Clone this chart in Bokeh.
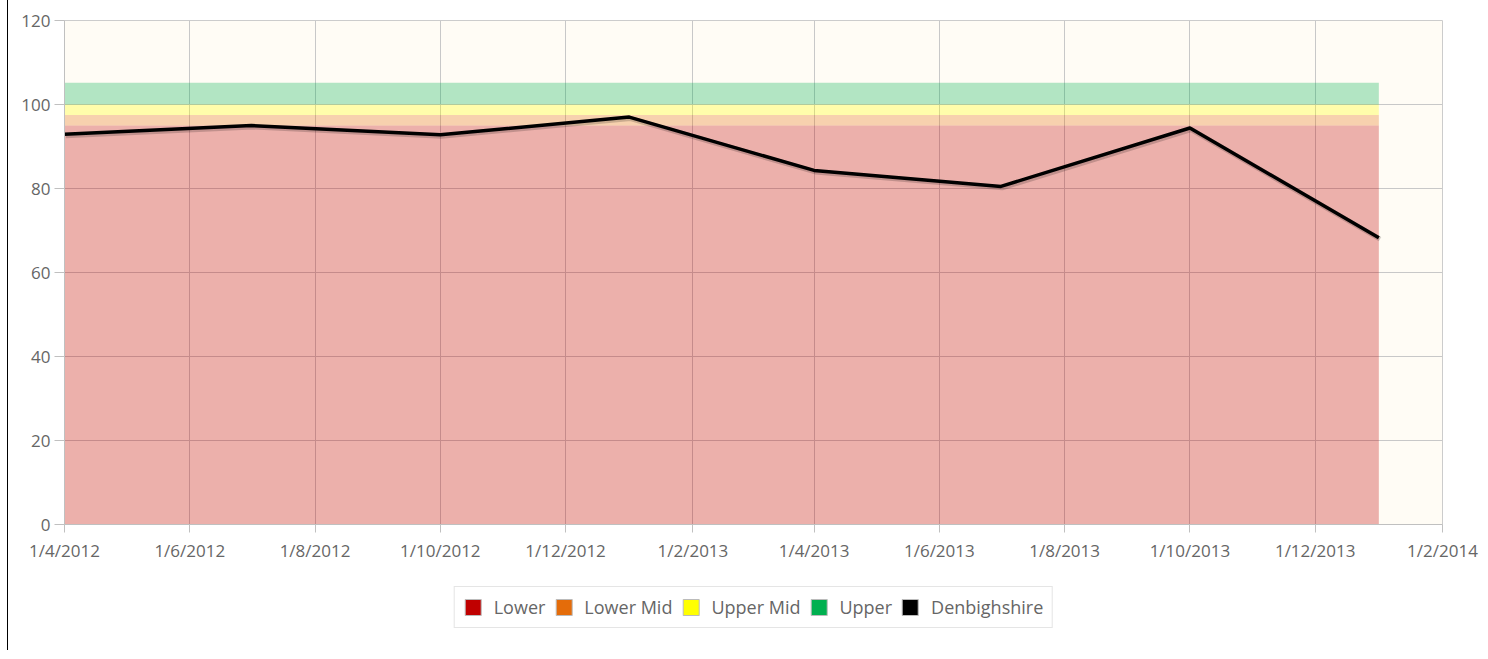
import math
import pandas as pd
from bokeh.plotting import figure
from bokeh.layouts import column
from bokeh.models import (FixedTicker, Legend, LegendItem, ColumnDataSource, Range1d)
from bokeh.embed import file_html
from bokeh.resources import INLINE

# ---- data ----
dates = ["2012-04-01", "2012-07-01", "2012-10-01", "2013-01-01",
         "2013-04-01", "2013-07-01", "2013-10-01", "2014-01-01"]
lower = [95.0, 95.0, 95.0, 95.0, 95.0, 95.0, 95.0, 95.0]
lower_mid = [2.5, 2.5, 2.5, 2.5, 2.5, 2.5, 2.5, 2.5]
upper_mid = [2.5, 2.5, 2.5, 2.5, 2.5, 2.5, 2.5, 2.5]
upper = [5.2, 5.2, 5.2, 5.2, 5.2, 5.2, 5.2, 5.2]
denbighshire = [92.9, 95.0, 92.8, 97.0, 84.3, 80.5, 94.4, 68.3]

tick_dates = ["2012-04-01", "2012-06-01", "2012-08-01", "2012-10-01", "2012-12-01",
              "2013-02-01", "2013-04-01", "2013-06-01", "2013-08-01", "2013-10-01",
              "2013-12-01", "2014-02-01"]
tick_labels = ["1/4/2012", "1/6/2012", "1/8/2012", "1/10/2012", "1/12/2012",
               "1/2/2013", "1/4/2013", "1/6/2013", "1/8/2013", "1/10/2013",
               "1/12/2013", "1/2/2014"]
y_ticks = [0, 20, 40, 60, 80, 100, 120]

series_names = ["Lower", "Lower Mid", "Upper Mid", "Upper"]
series_colors = ["#C00000", "#E46C0A", "#FFFF00", "#00B050"]
line_name = "Denbighshire"
line_color = "#000000"

def to_ms(d):
    return pd.Timestamp(d).value / 1e6

xs = [to_ms(d) for d in dates]
tx = [to_ms(d) for d in tick_dates]

FONT = "Open Sans"
TXT = "#666666"

p = figure(width=1473, height=564, output_backend="svg", toolbar_location=None,
           x_range=Range1d(tx[0], tx[-1]), y_range=Range1d(0, 120),
           min_border_left=56, min_border_right=39, min_border_top=20,
           min_border_bottom=40,
           background_fill_color="#FFFCF5", border_fill_color="#FFFFFF",
           outline_line_color="#CCCCCC")

src = ColumnDataSource(dict(x=xs, Lower=lower, LowerMid=lower_mid,
                            UpperMid=upper_mid, Upper=upper, d=denbighshire))
p.varea_stack(stackers=["Lower", "LowerMid", "UpperMid", "Upper"], x="x",
              color=series_colors, fill_alpha=0.3, source=src)

# shadow + line
shadow_dy = 0.35
shadow_dx = (tx[1] - tx[0]) / 61 * 0.6
p.line([v + shadow_dx for v in xs], [v - shadow_dy for v in denbighshire],
       line_color="#000000", line_alpha=0.18, line_width=5)
p.line(xs, denbighshire, line_color=line_color, line_width=3.5, line_join="round")

# axes
p.xaxis.ticker = FixedTicker(ticks=tx)
p.xaxis.major_label_overrides = {t: l for t, l in zip(tx, tick_labels)}
p.yaxis.ticker = FixedTicker(ticks=y_ticks)
for ax in (p.xaxis[0], p.yaxis[0]):
    ax.axis_line_color = "#C0C0C0"
    ax.major_tick_line_color = "#C0C0C0"
    ax.minor_tick_line_color = None
    ax.major_tick_in = 0
    ax.major_label_text_font = FONT
    ax.major_label_text_font_size = "17px"
    ax.major_label_text_color = TXT
p.xaxis.major_tick_out = 8
p.yaxis.major_tick_out = 10
p.xaxis.major_label_standoff = 6
p.yaxis.major_label_standoff = 4

p.xgrid.ticker = FixedTicker(ticks=tx)
p.ygrid.ticker = FixedTicker(ticks=y_ticks)
p.grid.grid_line_color = "#C8C8C8"
p.grid.grid_line_alpha = 1

# ---- legend in a strip below the chart ----
lf = figure(width=1473, height=86, output_backend="svg", toolbar_location=None,
            x_range=Range1d(0, 1), y_range=Range1d(0, 1),
            min_border_left=56, min_border_right=39, min_border_top=0,
            min_border_bottom=0, outline_line_color=None,
            background_fill_color="#FFFFFF", border_fill_color="#FFFFFF")
lf.axis.visible = False
lf.grid.visible = False
items = []
for name, col in zip(series_names + [line_name], series_colors + [line_color]):
    r = lf.quad(left=[math.nan], right=[math.nan], top=[math.nan], bottom=[math.nan],
                fill_color=col, line_color="#BBBBBB", line_width=1)
    items.append(LegendItem(label=name, renderers=[r]))
legend = Legend(items=items, orientation="horizontal", location="center",
                label_text_font=FONT, label_text_font_size="18px",
                label_text_color=TXT, glyph_width=20, glyph_height=20,
                label_standoff=11, spacing=8, padding=8,
                border_line_color="#CCCCCC", background_fill_alpha=1,
                margin=0)
lf.add_layout(legend, "center")

layout = column(p, lf, spacing=0,
                styles={"border-left": "1px solid #000000", "margin-left": "7px"})

open("out.html", "w").write(file_html(layout, INLINE))
